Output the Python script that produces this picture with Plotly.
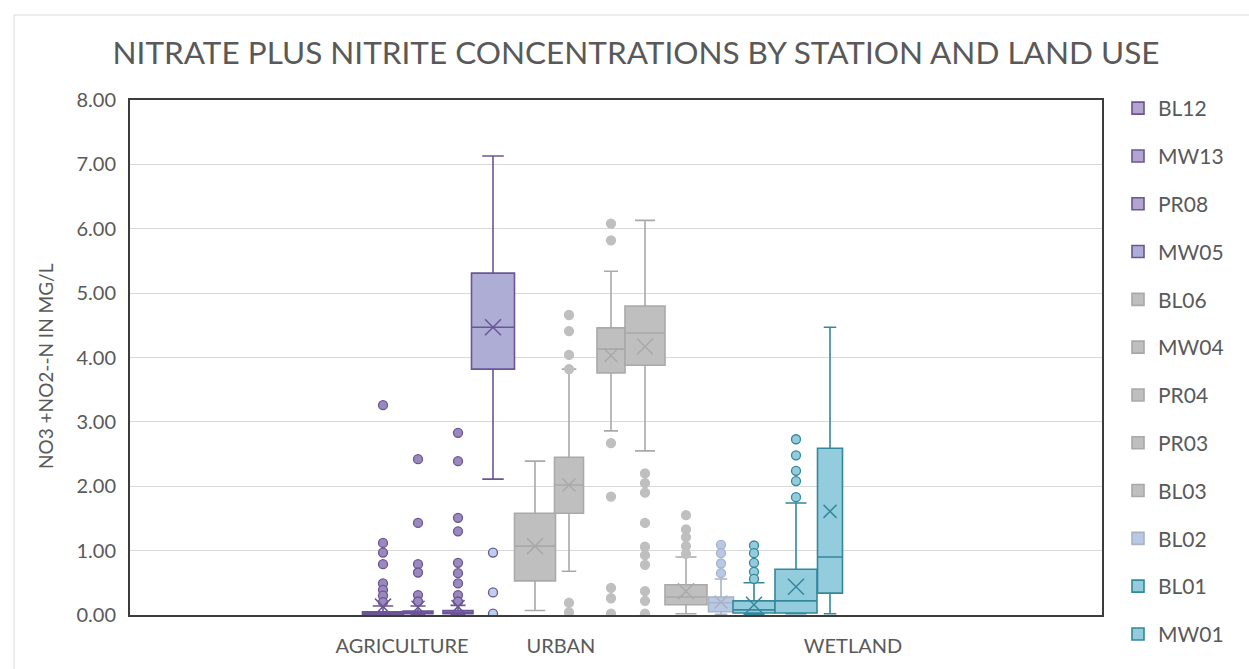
import plotly.graph_objects as go

# ---------------- data ----------------
stations = ["BL12", "MW13", "PR08", "MW05", "BL06", "MW04", "PR04", "PR03",
            "BL03", "BL02", "BL01", "BL01", "MW01"]
land_use = ["AGRICULTURE", "AGRICULTURE", "AGRICULTURE", "AGRICULTURE",
            "URBAN", "URBAN", "URBAN", "URBAN", "URBAN",
            "WETLAND", "WETLAND", "WETLAND", "WETLAND"]
lower = [0.00, 0.00, 0.00, 2.11, 0.07, 0.68, 2.86, 2.55, 0.02, 0.01, 0.01, 0.02, 0.02]
q1 = [0.01, 0.02, 0.02, 3.82, 0.53, 1.58, 3.76, 3.88, 0.16, 0.05, 0.03, 0.03, 0.34]
median = [0.03, 0.04, 0.04, 4.47, 1.07, 2.02, 4.13, 4.38, 0.28, 0.19, 0.08, 0.22, 0.90]
q3 = [0.05, 0.06, 0.07, 5.31, 1.58, 2.45, 4.46, 4.80, 0.47, 0.28, 0.22, 0.71, 2.59]
upper = [0.14, 0.14, 0.15, 7.13, 2.39, 3.82, 5.34, 6.13, 0.90, 0.56, 0.50, 1.74, 4.47]
mean = [0.13, 0.12, 0.13, 4.47, 1.07, 2.02, 4.03, 4.17, 0.37, 0.20, 0.16, 0.44, 1.61]
outliers = [
    [3.26, 1.12, 0.97, 0.79, 0.49, 0.39, 0.30, 0.20],
    [2.42, 1.43, 0.79, 0.66, 0.31, 0.21],
    [2.83, 2.39, 1.51, 1.30, 0.81, 0.65, 0.49, 0.31, 0.21],
    [0.97, 0.35, 0.02],
    [],
    [4.66, 4.41, 4.04, 3.82, 0.19, 0.04],
    [6.08, 5.82, 2.67, 1.84, 0.42, 0.26, 0.02],
    [2.20, 2.05, 1.90, 1.43, 1.06, 0.93, 0.78, 0.37, 0.22, 0.02],
    [1.55, 1.33, 1.21, 1.07, 0.95],
    [1.09, 0.96, 0.80, 0.65],
    [1.08, 0.96, 0.81, 0.67, 0.56],
    [2.73, 2.48, 2.24, 2.08, 1.83],
    [],
]
categories = ["AGRICULTURE", "URBAN", "WETLAND"]
y_ticks = [0, 1, 2, 3, 4, 5, 6, 7, 8]

# ---------------- layout / style ----------------
W, H = 1249, 669
PL, PR, PT, PB = 130, 1102, 100, 615   # plot area in px
box_center = [383, 418, 458, 493, 535, 569, 611, 645, 686, 721, 754, 796, 830]
box_width = [41, 30, 30, 43, 41, 29, 28, 40, 42, 25, 42, 42, 25]
cat_center = [402, 561, 853]
show_leg = [True] * 11 + [False, True]

PURPLE_L, PURPLE_F, PURPLE_P = "#6b5596", "#b3a5cd", "#9a89bd"
GRAY_L, GRAY_F = "#a9a9a9", "#bfbfbf"
TEAL_L, TEAL_F = "#35879c", "#93cddd"
style = []
for s in stations:
    if s in ("BL12", "MW13", "PR08"):
        style.append((PURPLE_L, PURPLE_F, PURPLE_P))
    elif s == "MW05":
        style.append((PURPLE_L, "#aeadd6", "#bcd0ea"))
    elif s == "BL02":
        style.append(("#a9b3c4", "#b7c9e6", "#b7c9e6"))
    elif s in ("BL01", "MW01"):
        style.append((TEAL_L, TEAL_F, TEAL_F))
    else:
        style.append((GRAY_L, GRAY_F, GRAY_F))

FONT = "Lato"
TXT = "#595959"

fig = go.Figure()
for i, s in enumerate(stations):
    lc, fc, pc = style[i]
    fig.add_trace(go.Box(
        x=[box_center[i]], q1=[q1[i]], median=[median[i]], q3=[q3[i]],
        lowerfence=[lower[i]], upperfence=[upper[i]],
        width=box_width[i], fillcolor=fc, line=dict(color=lc, width=1.6),
        whiskerwidth=0.5, boxpoints=False, name=s,
        legendgroup="g%d" % i, showlegend=show_leg[i],
        hovertext=land_use[i],
    ))
for i, s in enumerate(stations):
    lc, fc, pc = style[i]
    if outliers[i]:
        fig.add_trace(go.Scatter(
            x=[box_center[i]] * len(outliers[i]), y=outliers[i], mode="markers",
            marker=dict(symbol="circle", size=9, color=pc,
                        line=dict(color=lc if lc != GRAY_L else GRAY_F, width=1.3)),
            showlegend=False, hoverinfo="y", name=s, legendgroup="g%d" % i))
    fig.add_trace(go.Scatter(
        x=[box_center[i]], y=[mean[i]], mode="markers",
        marker=dict(symbol="x-thin", size=16 if box_width[i] > 35 else 13,
                    line=dict(color=lc, width=1.5)),
        showlegend=False, hoverinfo="y", name=s, legendgroup="g%d" % i))

fig.update_layout(
    width=W, height=H,
    margin=dict(l=PL, r=W - PR, t=PT, b=H - PB, autoexpand=False),
    paper_bgcolor="white", plot_bgcolor="white",
    font=dict(family=FONT, color=TXT),
    title=dict(text="NITRATE PLUS NITRITE CONCENTRATIONS BY STATION AND LAND USE",
               x=636 / W, xref="container", xanchor="center",
               y=1 - 53 / H, yref="container", yanchor="middle",
               font=dict(family=FONT, size=31.5, color=TXT)),
    xaxis=dict(range=[PL, PR], tickvals=cat_center, ticktext=categories,
               showgrid=False, zeroline=False, showline=True, mirror=True,
               linecolor="#3c3c3c", linewidth=2, ticks="",
               tickfont=dict(size=20, color=TXT), ticklabelstandoff=12),
    yaxis=dict(range=[0, 8], tickvals=y_ticks,
               ticktext=["%.2f" % v for v in y_ticks],
               showgrid=True, gridcolor="#d9d9d9", gridwidth=1.3,
               zeroline=False, showline=True, mirror=True,
               linecolor="#3c3c3c", linewidth=2, ticks="",
               tickfont=dict(size=20, color=TXT), ticklabelstandoff=8),
    legend=dict(x=(1118 - PL) / (PR - PL), xanchor="left",
                y=(PB - 88) / (PB - PT), yanchor="top",
                font=dict(size=21, color=TXT), tracegroupgap=17.5,
                traceorder="grouped", bgcolor="rgba(0,0,0,0)",
                maxheight=640),
    showlegend=True,
)
fig.add_annotation(text="NO3 +NO2--N IN MG/L", textangle=-90,
                   xref="paper", yref="paper",
                   x=(45 - PL) / (PR - PL), y=(PB - 366) / (PB - PT),
                   xanchor="center", yanchor="middle", showarrow=False,
                   font=dict(size=19, color=TXT, family=FONT))
fig.add_shape(type="rect", xref="paper", yref="paper",
              x0=(14 - PL) / (PR - PL), x1=(1270 - PL) / (PR - PL),
              y0=(PB - 690) / (PB - PT), y1=(PB - 15) / (PB - PT),
              line=dict(color="#d9d9d9", width=1), layer="below")

fig.write_html("out.html")
